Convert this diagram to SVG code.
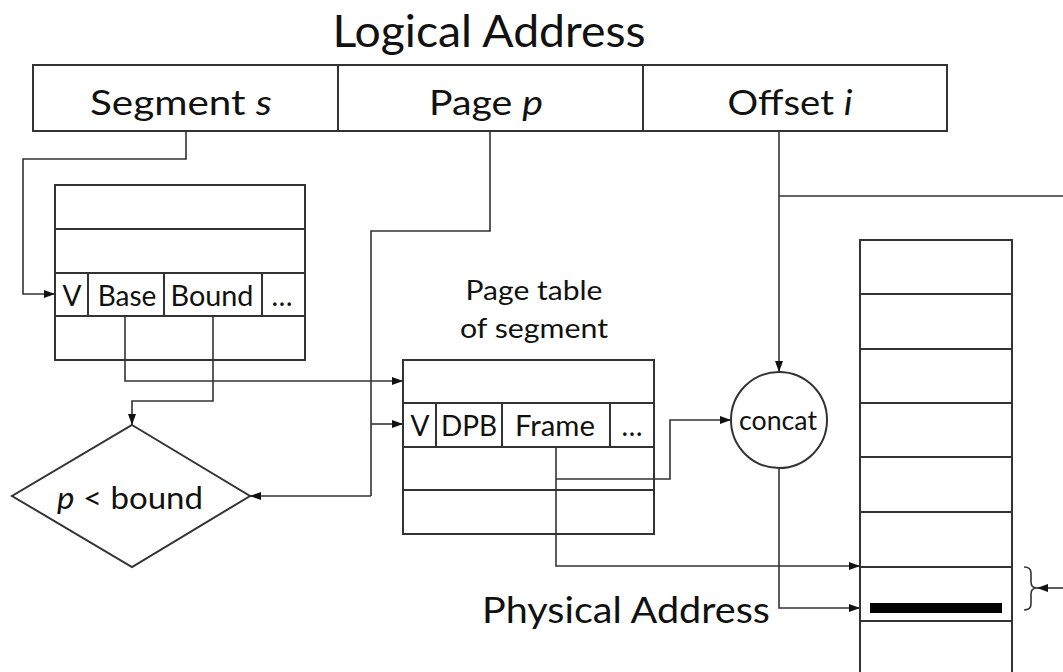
<svg xmlns="http://www.w3.org/2000/svg" width="1063" height="672" viewBox="0 0 1063 672">
  <defs>
    <marker id="arrow" viewBox="0 0 11 10" refX="11" refY="5" markerWidth="11" markerHeight="10" markerUnits="userSpaceOnUse" orient="auto">
      <path d="M0,1 L11,5 L0,9 Z" fill="#111"/>
    </marker>
    <style>
      .box { fill: #fff; stroke: #333; stroke-width: 2; }
      .cell { fill: none; stroke: #333; stroke-width: 2; }
      .wire { fill: none; stroke: #333; stroke-width: 1.6; }
      .arr { marker-end: url(#arrow); }
      text { font-family: Lato, "Open Sans", "Liberation Sans", sans-serif; fill: #111; text-anchor: middle; }
      .big { font-size: 44px; }
      .lbl { font-size: 35px; }
      .cel { font-size: 28px; }
      .mid { font-size: 27px; }
      .it { font-style: italic; }
    </style>
  </defs>
  <rect width="1063" height="672" fill="#fff"/>

  <!-- logical address: segment / page / offset fields -->
  <g id="logical-address">
    <text class="big" x="489" y="47" textLength="313" lengthAdjust="spacingAndGlyphs">Logical Address</text>
    <rect class="box" x="33" y="65" width="914" height="66"/>
    <line class="cell" x1="338" y1="65" x2="338" y2="131"/>
    <line class="cell" x1="643" y1="65" x2="643" y2="131"/>
    <text class="lbl" x="181" y="115" textLength="182" lengthAdjust="spacingAndGlyphs">Segment <tspan class="it">s</tspan></text>
    <text class="lbl" x="486" y="115" textLength="114" lengthAdjust="spacingAndGlyphs">Page <tspan class="it">p</tspan></text>
    <text class="lbl" x="790" y="115" textLength="125" lengthAdjust="spacingAndGlyphs">Offset <tspan class="it">i</tspan></text>
  </g>

  <!-- segment table -->
  <g id="segment-table">
    <rect class="box" x="55" y="185" width="250" height="175"/>
    <line class="cell" x1="55" y1="229" x2="305" y2="229"/>
    <line class="cell" x1="55" y1="273" x2="305" y2="273"/>
    <line class="cell" x1="55" y1="316" x2="305" y2="316"/>
    <line class="cell" x1="88" y1="273" x2="88" y2="316"/>
    <line class="cell" x1="164" y1="273" x2="164" y2="316"/>
    <line class="cell" x1="262" y1="273" x2="262" y2="316"/>
    <text class="cel" x="72" y="306">V</text>
    <text class="cel" x="127" y="306">Base</text>
    <text class="cel" x="212" y="306" textLength="83" lengthAdjust="spacingAndGlyphs">Bound</text>
    <text class="cel" x="282" y="306">…</text>
  </g>

  <!-- bound check -->
  <g id="bound-check">
    <polygon class="box" points="132,425 250,496 132,567 12,496"/>
    <text class="lbl" x="130" y="509" style="font-size:31px" textLength="146" lengthAdjust="spacingAndGlyphs"><tspan class="it">p</tspan> &lt; bound</text>
  </g>

  <!-- page table of the segment -->
  <g id="page-table">
    <text class="mid" x="534" y="300" textLength="137" lengthAdjust="spacingAndGlyphs">Page table</text>
    <text class="mid" x="534" y="338" textLength="148" lengthAdjust="spacingAndGlyphs">of segment</text>
    <rect class="box" x="403" y="360" width="251" height="174"/>
    <line class="cell" x1="403" y1="403" x2="654" y2="403"/>
    <line class="cell" x1="403" y1="447" x2="654" y2="447"/>
    <line class="cell" x1="403" y1="490" x2="654" y2="490"/>
    <line class="cell" x1="436" y1="403" x2="436" y2="447"/>
    <line class="cell" x1="502" y1="403" x2="502" y2="447"/>
    <line class="cell" x1="610" y1="403" x2="610" y2="447"/>
    <text class="cel" x="420" y="436">V</text>
    <text class="cel" x="469" y="436">DPB</text>
    <text class="cel" x="555" y="436" textLength="80" lengthAdjust="spacingAndGlyphs">Frame</text>
    <text class="cel" x="632" y="436">…</text>
  </g>

  <!-- concatenation of frame and offset -->
  <g id="concat">
    <circle class="box" cx="779" cy="420" r="48"/>
    <text class="mid" x="778" y="430" textLength="78" lengthAdjust="spacingAndGlyphs">concat</text>
  </g>

  <!-- physical memory -->
  <g id="memory">
    <rect class="box" x="860" y="240" width="152" height="440"/>
    <line class="cell" x1="860" y1="294" x2="1012" y2="294"/>
    <line class="cell" x1="860" y1="349" x2="1012" y2="349"/>
    <line class="cell" x1="860" y1="403" x2="1012" y2="403"/>
    <line class="cell" x1="860" y1="457" x2="1012" y2="457"/>
    <line class="cell" x1="860" y1="512" x2="1012" y2="512"/>
    <line class="cell" x1="860" y1="567" x2="1012" y2="567"/>
    <line class="cell" x1="860" y1="621" x2="1012" y2="621"/>
    <rect x="870" y="603" width="132" height="10" fill="#000"/>
    <path class="wire" d="M1024,567 Q1031,567 1031,573 L1031,582 Q1031,588 1037,588 Q1031,588 1031,594 L1031,604 Q1031,610 1024,610"/>
  </g>

  <g id="physical-address">
    <text class="lbl" x="626" y="623" style="font-size:36px" textLength="288" lengthAdjust="spacingAndGlyphs">Physical Address</text>
  </g>

  <!-- connectors -->
  <g id="connectors">
    <path class="wire arr" d="M186,131 V159 H23 V294 H55"/>
    <path class="wire arr" d="M125,316 V381 H403"/>
    <path class="wire arr" d="M213,316 V401 H132 V425"/>
    <path class="wire" d="M490,131 V231 H371 V496"/>
    <path class="wire arr" d="M371,496 H250"/>
    <path class="wire arr" d="M371,424 H403"/>
    <path class="wire arr" d="M556,447 V566 H860"/>
    <path class="wire arr" d="M556,479 H670 V420 H731"/>
    <path class="wire arr" d="M779,131 V372"/>
    <path class="wire" d="M779,196 H1063"/>
    <path class="wire arr" d="M779,468 V608 H860"/>
    <path class="wire arr" d="M1063,588 H1037"/>
  </g>
</svg>
